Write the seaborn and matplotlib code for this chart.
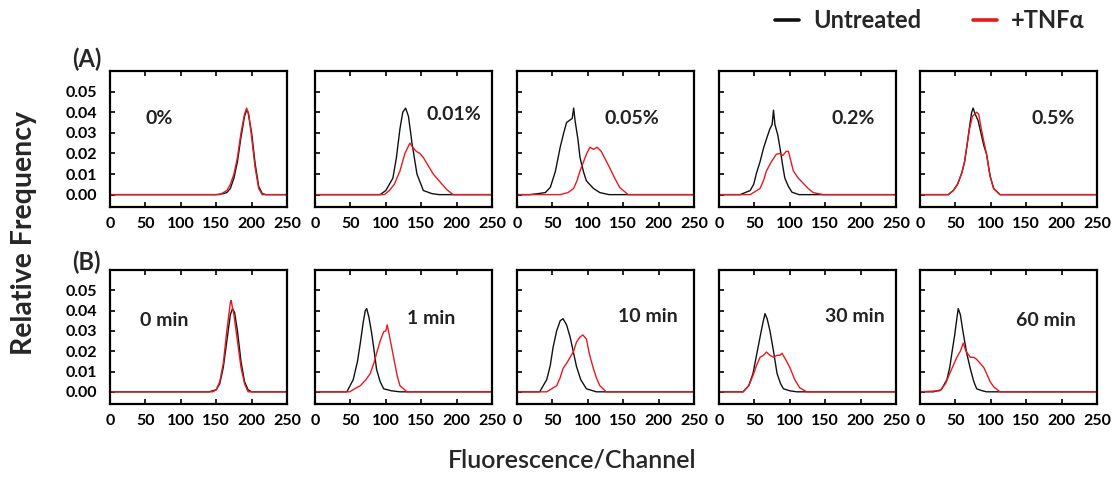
import matplotlib
matplotlib.use("Agg")
import matplotlib.pyplot as plt
from matplotlib.lines import Line2D
import seaborn as sns

sns.set_theme(style="white")
plt.rcParams['font.family'] = ['Lato', 'DejaVu Sans']

# ---------------- data (channel, relative frequency) ----------------
# Row A: concentration series
A_labels = ["0%", "0.01%", "0.05%", "0.2%", "0.5%"]

a0_ut_ch = [0, 150, 160, 165, 170, 175, 180, 185, 190, 193, 195, 200, 205, 210, 215, 220, 250]
a0_ut_f = [0, 0, 0.0005, 0.001, 0.003, 0.008, 0.016, 0.028, 0.038, 0.041, 0.040, 0.030, 0.015, 0.004, 0.0005, 0, 0]
a0_tn_ch = [0, 155, 165, 170, 175, 180, 185, 190, 193, 196, 200, 205, 210, 215, 250]
a0_tn_f = [0, 0, 0.002, 0.005, 0.010, 0.018, 0.030, 0.039, 0.042, 0.039, 0.028, 0.013, 0.003, 0, 0]

a1_ut_ch = [0, 92, 100, 110, 115, 120, 124, 128, 132, 137, 144, 153, 165, 175, 250]
a1_ut_f = [0, 0, 0.002, 0.008, 0.018, 0.032, 0.040, 0.042, 0.038, 0.025, 0.010, 0.002, 0.0005, 0, 0]
a1_tn_ch = [0, 98, 105, 112, 120, 127, 134, 138, 143, 148, 153, 160, 167, 177, 186, 195, 250]
a1_tn_f = [0, 0, 0.002, 0.005, 0.0115, 0.020, 0.025, 0.023, 0.021, 0.020, 0.018, 0.014, 0.010, 0.006, 0.0025, 0, 0]

a2_ut_ch = [0, 18, 30, 40, 47, 54, 61, 66, 70, 74, 78, 80, 82, 86, 89, 94, 98, 108, 117, 130, 250]
a2_ut_f = [0, 0, 0.0005, 0.001, 0.0035, 0.011, 0.023, 0.030, 0.035, 0.036, 0.037, 0.042, 0.036, 0.027, 0.018, 0.011, 0.0067, 0.003, 0.001, 0, 0]
a2_tn_ch = [0, 61, 72, 80, 85, 89, 94, 98, 103, 108, 113, 119, 125, 131, 138, 145, 157, 250]
a2_tn_f = [0, 0, 0.001, 0.003, 0.007, 0.0115, 0.016, 0.0196, 0.023, 0.022, 0.023, 0.021, 0.017, 0.013, 0.008, 0.0035, 0, 0]

a3_ut_ch = [0, 30, 44, 49, 53, 58, 63, 68, 72, 75, 77, 79, 83, 86, 90, 93, 98, 103, 113, 250]
a3_ut_f = [0, 0, 0.002, 0.005, 0.0105, 0.016, 0.0227, 0.028, 0.032, 0.034, 0.041, 0.034, 0.029, 0.023, 0.014, 0.008, 0.004, 0.0012, 0, 0]
a3_tn_ch = [0, 44, 58, 63, 67, 74, 81, 86, 90, 95, 98, 101, 105, 112, 119, 126, 133, 147, 250]
a3_tn_f = [0, 0, 0.003, 0.007, 0.0115, 0.016, 0.0196, 0.020, 0.019, 0.021, 0.021, 0.017, 0.0115, 0.008, 0.0055, 0.003, 0.001, 0, 0]

a4_ut_ch = [0, 40, 47, 53, 59, 63, 66, 70, 73, 75, 78, 82, 86, 90, 94, 99, 104, 113, 130, 250]
a4_ut_f = [0, 0, 0.002, 0.005, 0.0105, 0.016, 0.023, 0.033, 0.040, 0.042, 0.039, 0.036, 0.030, 0.024, 0.0196, 0.009, 0.003, 0, 0, 0]
a4_tn_ch = [0, 40, 47, 53, 59, 63, 66, 70, 74, 77, 80, 83, 86, 90, 94, 99, 104, 113, 250]
a4_tn_f = [0, 0, 0.002, 0.005, 0.0105, 0.016, 0.023, 0.032, 0.038, 0.039, 0.040, 0.039, 0.033, 0.026, 0.0196, 0.009, 0.003, 0, 0]

# Row B: time series
B_labels = ["0 min", "1 min", "10 min", "30 min", "60 min"]

b0_ut_ch = [0, 140, 150, 155, 160, 165, 170, 173, 176, 180, 185, 190, 195, 200, 250]
b0_ut_f = [0, 0, 0.001, 0.004, 0.012, 0.025, 0.038, 0.041, 0.039, 0.030, 0.015, 0.005, 0.001, 0, 0]
b0_tn_ch = [0, 145, 150, 155, 160, 165, 170, 171, 175, 180, 185, 190, 195, 250]
b0_tn_f = [0, 0, 0.001, 0.005, 0.014, 0.030, 0.044, 0.045, 0.038, 0.025, 0.012, 0.004, 0, 0]

b1_ut_ch = [0, 45, 54, 60, 64, 68, 71, 73, 76, 80, 84, 87, 92, 97, 108, 120, 250]
b1_ut_f = [0, 0, 0.006, 0.015, 0.024, 0.034, 0.040, 0.041, 0.037, 0.029, 0.019, 0.011, 0.005, 0.0015, 0.0005, 0, 0]
b1_tn_ch = [0, 49, 56, 64, 72, 78, 83, 87, 92, 97, 100, 102, 106, 111, 116, 120, 130, 250]
b1_tn_f = [0, 0, 0.0015, 0.003, 0.006, 0.009, 0.014, 0.019, 0.025, 0.0296, 0.030, 0.033, 0.026, 0.017, 0.008, 0.003, 0, 0]

b2_ut_ch = [0, 32, 42, 47, 51, 56, 61, 65, 70, 75, 80, 84, 90, 98, 112, 250]
b2_ut_f = [0, 0, 0.006, 0.013, 0.022, 0.030, 0.035, 0.036, 0.033, 0.027, 0.019, 0.0125, 0.006, 0.0015, 0, 0]
b2_tn_ch = [0, 42, 56, 61, 65, 70, 75, 80, 84, 89, 93, 98, 102, 107, 112, 117, 126, 250]
b2_tn_f = [0, 0, 0.003, 0.007, 0.0115, 0.014, 0.017, 0.020, 0.0245, 0.027, 0.028, 0.026, 0.019, 0.0125, 0.007, 0.003, 0, 0]

b3_ut_ch = [0, 34, 42, 48, 53, 58, 62, 65, 68, 72, 77, 82, 87, 91, 100, 110, 250]
b3_ut_f = [0, 0, 0.003, 0.009, 0.018, 0.027, 0.034, 0.0385, 0.036, 0.030, 0.020, 0.009, 0.004, 0.0015, 0.0005, 0, 0]
b3_tn_ch = [0, 34, 42, 48, 53, 58, 63, 67, 72, 77, 82, 86, 89, 94, 100, 107, 114, 124, 250]
b3_tn_f = [0, 0, 0.003, 0.008, 0.013, 0.017, 0.018, 0.0196, 0.018, 0.017, 0.018, 0.018, 0.019, 0.016, 0.012, 0.006, 0.002, 0, 0]

b4_ut_ch = [0, 19, 30, 38, 42, 45, 49, 52, 54, 57, 61, 66, 71, 76, 80, 88, 94, 250]
b4_ut_f = [0, 0, 0.001, 0.006, 0.012, 0.019, 0.028, 0.036, 0.041, 0.038, 0.029, 0.019, 0.0115, 0.005, 0.0015, 0.0005, 0, 0]
b4_tn_ch = [0, 28, 36, 42, 47, 52, 57, 61, 65, 71, 76, 80, 85, 90, 94, 99, 104, 113, 250]
b4_tn_f = [0, 0.0005, 0.004, 0.009, 0.013, 0.017, 0.020, 0.024, 0.020, 0.017, 0.017, 0.016, 0.014, 0.012, 0.009, 0.005, 0.0025, 0, 0]

A_series = [(a0_ut_ch, a0_ut_f, a0_tn_ch, a0_tn_f), (a1_ut_ch, a1_ut_f, a1_tn_ch, a1_tn_f),
            (a2_ut_ch, a2_ut_f, a2_tn_ch, a2_tn_f), (a3_ut_ch, a3_ut_f, a3_tn_ch, a3_tn_f),
            (a4_ut_ch, a4_ut_f, a4_tn_ch, a4_tn_f)]
B_series = [(b0_ut_ch, b0_ut_f, b0_tn_ch, b0_tn_f), (b1_ut_ch, b1_ut_f, b1_tn_ch, b1_tn_f),
            (b2_ut_ch, b2_ut_f, b2_tn_ch, b2_tn_f), (b3_ut_ch, b3_ut_f, b3_tn_ch, b3_tn_f),
            (b4_ut_ch, b4_ut_f, b4_tn_ch, b4_tn_f)]

# label anchor (channel, value) for each panel text
A_label_pos = [(50, 0.037), (158, 0.039), (124, 0.037), (159, 0.037), (158, 0.037)]
B_label_pos = [(42, 0.035), (130, 0.036), (143, 0.037), (150, 0.037), (136, 0.035)]

x_ticks = [0, 50, 100, 150, 200, 250]
y_ticks = [0.00, 0.01, 0.02, 0.03, 0.04, 0.05]

RED = "#e8191e"
BLACK = "#111111"

# ---------------- figure ----------------
W, H = 1119, 483
fig = plt.figure(figsize=(W / 100, H / 100), dpi=100)

lefts = [110, 315, 517, 719, 920]
pw = 177
rows = [(71, 207), (270, 404)]

def px_axes(l, t, b):
    return fig.add_axes([l / W, 1 - b / H, pw / W, (b - t) / H])

for r, (series, labels, lpos) in enumerate([(A_series, A_labels, A_label_pos),
                                             (B_series, B_labels, B_label_pos)]):
    t, b = rows[r]
    for c in range(5):
        ax = px_axes(lefts[c], t, b)
        ut_ch, ut_f, tn_ch, tn_f = series[c]
        sns.lineplot(x=ut_ch, y=ut_f, ax=ax, color=BLACK, lw=1.0, estimator=None, sort=False)
        sns.lineplot(x=tn_ch, y=tn_f, ax=ax, color=RED, lw=1.0, estimator=None, sort=False)
        ax.set_xlim(0, 250)
        ax.set_ylim(-0.006, 0.06)
        ax.set_xticks(x_ticks)
        ax.set_yticks(y_ticks)
        ax.set_xticklabels([str(v) for v in x_ticks], fontsize=11.5, fontweight='bold')
        if c == 0:
            ax.set_yticklabels([f"{v:.2f}" for v in y_ticks], fontsize=11.5, fontweight='bold')
        else:
            ax.set_yticklabels([])
        ax.tick_params(axis='both', direction='in', length=3.5, width=1.2, colors='black',
                       top=True, bottom=True, left=True, right=False)
        ax.tick_params(axis='x', labeltop=False, pad=7)
        ax.tick_params(axis='y', pad=9)
        for s in ax.spines.values():
            s.set_visible(True)
            s.set_color('black')
            s.set_linewidth(1.6)
        ax.set_xlabel("")
        ax.set_ylabel("")
        ax.text(lpos[c][0], lpos[c][1], labels[c], fontsize=14, fontweight='bold',
                ha='left', va='center', color='#222222')

fig.text(72 / W, 1 - 59 / H, "(A)", fontsize=17, fontweight='bold', ha='left', va='center')
fig.text(72 / W, 1 - 262 / H, "(B)", fontsize=17, fontweight='bold', ha='left', va='center')

fig.text(24 / W, 1 - 233 / H, "Relative Frequency", rotation=90, fontsize=20.5,
         fontweight='bold', ha='center', va='center')
fig.text(572 / W, 1 - 460 / H, "Fluorescence/Channel", fontsize=18,
         fontweight='semibold', ha='center', va='center')

handles = [Line2D([0], [0], color=BLACK, lw=2.6), Line2D([0], [0], color=RED, lw=2.6)]
leg = fig.legend(handles, ["Untreated", "+TNFα"], loc='center right',
                 bbox_to_anchor=(1106 / W, 1 - 21 / H), ncol=2, frameon=False,
                 handlelength=1.0, handletextpad=0.6, columnspacing=2.2,
                 prop={'weight': 'bold', 'size': 17})

fig.savefig("out.png", dpi=100)
